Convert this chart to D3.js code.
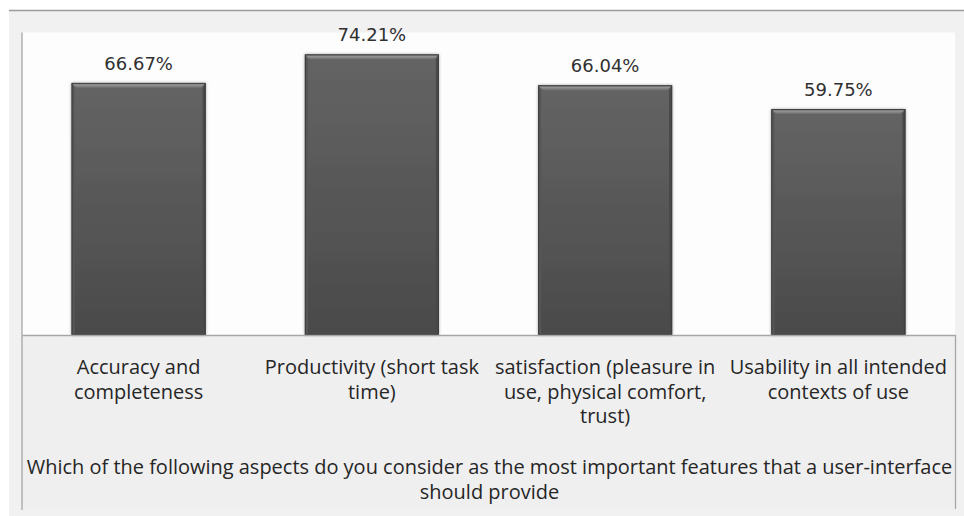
<!DOCTYPE html>
<html>
<head>
<meta charset="utf-8">
<script src="https://cdn.jsdelivr.net/npm/d3@7"></script>
<style>
  html, body { margin: 0; padding: 0; background: #ffffff; }
  svg { display: block; }
</style>
</head>
<body>
<svg id="chart" width="964" height="516"></svg>
<script>
// Survey answers: share of respondents choosing each aspect
const categories = [
  "Accuracy and\ncompleteness",
  "Productivity (short task\ntime)",
  "satisfaction (pleasure in\nuse, physical comfort,\ntrust)",
  "Usability in all intended\ncontexts of use"
];
const values = [66.67, 74.21, 66.04, 59.75];
const valueLabels = ["66.67%", "74.21%", "66.04%", "59.75%"];
const axisTitle = [
  "Which of the following aspects do you consider as the most important features that a user-interface",
  "should provide"
];
const yDomain = [0, 80];

const svg = d3.select("#chart");

// frame geometry
const frame = { left: 9, top: 10, right: 964, bottom: 516 };
const plot = { left: 22, right: 955, top: 32.5, bottom: 335 };
const labelAreaBottom = 509;
const labelFont = "'Open Sans', Lato, sans-serif";
const titleWidth = 926;

const defs = svg.append("defs");

const face = defs.append("linearGradient").attr("id", "barFace")
  .attr("x1", 0).attr("y1", 0).attr("x2", 0).attr("y2", 1);
face.append("stop").attr("offset", "0%").attr("stop-color", "#646464");
face.append("stop").attr("offset", "100%").attr("stop-color", "#4a4a4a");

const topBevel = defs.append("linearGradient").attr("id", "barTop")
  .attr("x1", 0).attr("y1", 0).attr("x2", 0).attr("y2", 1);
topBevel.append("stop").attr("offset", "0%").attr("stop-color", "#7a7a7a");
topBevel.append("stop").attr("offset", "45%").attr("stop-color", "#929292");
topBevel.append("stop").attr("offset", "100%").attr("stop-color", "#6a6a6a");

const shadow = defs.append("filter").attr("id", "barShadow")
  .attr("x", "-10%").attr("y", "-10%").attr("width", "120%").attr("height", "120%");
shadow.append("feGaussianBlur").attr("in", "SourceAlpha").attr("stdDeviation", 1.6);
shadow.append("feOffset").attr("dx", 0).attr("dy", 0).attr("result", "blur");
shadow.append("feComponentTransfer").append("feFuncA").attr("type", "linear").attr("slope", 0.35);
const merge = shadow.append("feMerge");
merge.append("feMergeNode");
merge.append("feMergeNode").attr("in", "SourceGraphic");

// outer chart area
svg.append("rect")
  .attr("x", frame.left).attr("y", frame.top)
  .attr("width", frame.right - frame.left).attr("height", frame.bottom - frame.top)
  .attr("fill", "#f1f1f1");
svg.append("line")
  .attr("x1", frame.left).attr("x2", frame.right)
  .attr("y1", frame.top + 0.5).attr("y2", frame.top + 0.5)
  .attr("stroke", "#9c9c9c").attr("stroke-width", 1.5);

// plot area
svg.append("rect")
  .attr("x", plot.left).attr("y", plot.top)
  .attr("width", plot.right - plot.left).attr("height", plot.bottom - plot.top)
  .attr("fill", "#fdfdfd");

// category label area
svg.append("rect")
  .attr("x", plot.left).attr("y", plot.bottom)
  .attr("width", plot.right - plot.left).attr("height", labelAreaBottom - plot.bottom)
  .attr("fill", "#efefef");

const x = d3.scaleBand()
  .domain(categories)
  .range([plot.left, plot.right])
  .paddingInner(0.4255)
  .paddingOuter(0.4255 / 2);

const y = d3.scaleLinear().domain(yDomain).range([plot.bottom, plot.top]);

// bars with bevelled edges
const bev = 5;
const bars = svg.append("g").selectAll("g.bar")
  .data(values)
  .join("g")
  .attr("class", "bar")
  .attr("filter", "url(#barShadow)");

bars.each(function (v, i) {
  const g = d3.select(this);
  const x0 = x(categories[i]);
  const w = x.bandwidth();
  const y0 = y(v);
  const y1 = y(0);
  const x1 = x0 + w;
  g.append("rect").attr("x", x0).attr("y", y0).attr("width", w).attr("height", y1 - y0)
    .attr("fill", "url(#barFace)");
  const poly = (pts, fill) => g.append("polygon")
    .attr("points", pts.map(p => p.join(",")).join(" "))
    .attr("fill", fill);
  poly([[x0, y0], [x1, y0], [x1 - bev, y0 + bev], [x0 + bev, y0 + bev]], "url(#barTop)");
  poly([[x0, y0], [x0 + bev * 0.6, y0 + bev], [x0 + bev * 0.6, y1 - 1], [x0, y1]], "#575757");
  poly([[x1, y0], [x1 - bev * 0.6, y0 + bev], [x1 - bev * 0.6, y1 - 1], [x1, y1]], "#484848");
  g.append("rect").attr("x", x0 + 0.5).attr("y", y0 + 0.5).attr("width", w - 1).attr("height", y1 - y0 - 1)
    .attr("fill", "none").attr("stroke", "#3e3e3e").attr("stroke-width", 1);
});

// value labels
svg.append("g").selectAll("text")
  .data(values)
  .join("text")
  .attr("x", (d, i) => x(categories[i]) + x.bandwidth() / 2)
  .attr("y", d => y(d) - 13)
  .attr("text-anchor", "middle")
  .attr("font-family", "'DejaVu Sans', Verdana, sans-serif")
  .attr("font-size", 18)
  .attr("fill", "#303030")
  .text((d, i) => valueLabels[i]);

// axis title (its first line sets the text size for all axis text)
const title = svg.append("text")
  .attr("text-anchor", "middle")
  .attr("font-family", labelFont)
  .attr("font-size", 19)
  .attr("fill", "#262626")
  .attr("y", 474);
axisTitle.forEach((line, k) => {
  title.append("tspan")
    .attr("x", (plot.left + plot.right) / 2 + 1)
    .attr("dy", k === 0 ? 0 : 24.5)
    .text(line);
});
const firstLine = title.select("tspan").node().getComputedTextLength();
const fontSize = 19 * titleWidth / firstLine;
title.attr("font-size", fontSize);

// category axis
const xAxis = d3.axisBottom(x).tickSize(0).tickFormat("");
const axisG = svg.append("g")
  .attr("transform", `translate(0,${plot.bottom})`)
  .call(xAxis);
axisG.select(".domain").attr("stroke", "#a6a6a6").attr("stroke-width", 1.3);

axisG.selectAll(".tick").each(function (d) {
  const t = d3.select(this).append("text")
    .attr("text-anchor", "middle")
    .attr("font-family", labelFont)
    .attr("font-size", fontSize)
    .attr("fill", "#262626")
    .attr("y", 39);
  d.split("\n").forEach((line, k) => {
    t.append("tspan").attr("x", 0).attr("dy", k === 0 ? 0 : 24.5).text(line);
  });
});

// frame lines of the plot and label area
svg.append("line")
  .attr("x1", plot.left).attr("x2", plot.left)
  .attr("y1", plot.top).attr("y2", labelAreaBottom + 1)
  .attr("stroke", "#a6a6a6").attr("stroke-width", 1.3);
svg.append("line")
  .attr("x1", plot.right + 0.5).attr("x2", plot.right + 0.5)
  .attr("y1", plot.bottom).attr("y2", labelAreaBottom)
  .attr("stroke", "#a6a6a6").attr("stroke-width", 1.3);
</script>
</body>
</html>
